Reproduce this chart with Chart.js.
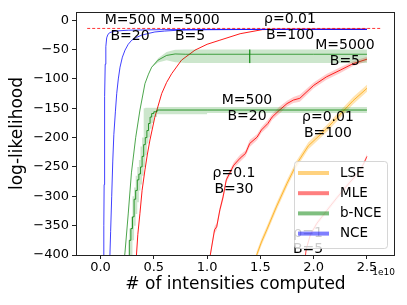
<!DOCTYPE html>
<html>
<head>
<meta charset="utf-8">
<script src="https://cdn.jsdelivr.net/npm/chart.js@4.4.0/dist/chart.umd.min.js"></script>
<style>
  html, body { margin:0; padding:0; background:#fff; }
  canvas { display:block; }
</style>
</head>
<body>
<canvas id="chart" width="407" height="305"></canvas>
<script>
// x values are in units of 1e10 intensities computed
const xTicks = [0, 0.5, 1.0, 1.5, 2.0, 2.5];
const yTicks = [0, -50, -100, -150, -200, -250, -300, -350, -400];

// reference (true) log-likelihood, dashed
const refX = [-0.125, 2.625];
const refY = [-14, -14];

// NCE, M=500 B=20
const nceFastX = [0.028, 0.031, 0.034, 0.037, 0.040, 0.044, 0.050, 0.058, 0.070, 0.089, 0.136, 0.26, 0.6, 1.2, 2.5];
const nceFastY = [-420, -350, -280, -200, -130, -75, -45, -30, -24, -21, -18.5, -17, -16, -15.5, -15.5];

// NCE, M=5000 B=5
const nceSlowX = [0.085, 0.095, 0.105, 0.115, 0.125, 0.14, 0.152, 0.167, 0.183, 0.205, 0.23, 0.26, 0.293, 0.34, 0.386, 0.45, 0.51, 0.6, 0.73, 1.0, 1.5, 2.0, 2.5];
const nceSlowY = [-420, -360, -300, -240, -195, -155, -125, -100, -80, -63, -51, -41, -34, -29, -25.5, -22.5, -20, -18.5, -17, -16.2, -15.7, -15.5, -15.5];

// b-NCE, M=5000 B=5
const bnceBigX = [0.215, 0.23, 0.26, 0.29, 0.33, 0.37, 0.417, 0.45, 0.48, 0.54, 0.62, 0.70, 0.8, 1.0, 1.399, 1.4, 1.4, 1.401, 2.0, 2.5];
const bnceBigY = [-420, -395, -330, -260, -200, -153, -108, -92, -80, -68, -60, -57.5, -58, -58, -58, -50, -73, -58, -58, -58];
const bnceBigUp = [0, 0, 0, 0, 0, 0, 0, 0, 0, 3, 6, 7, 8, 8, 8, 8, 8, 8, 8, 8];
const bnceBigDown = [0, 0, 0, 0, 0, 0, 0, 0, 0, 4, 8, 14, 15, 15, 15, 15, 15, 15, 15, 15];

// b-NCE, M=500 B=20 (staircase)
const bnceSmallX = [0.25, 0.27, 0.285, 0.30, 0.315, 0.33, 0.345, 0.36, 0.375, 0.39, 0.405, 0.42, 0.435, 0.45, 0.465, 0.48, 0.50, 0.53, 1.0, 2.5];
const bnceSmallY = [-420, -375, -355, -335, -305, -290, -272, -262, -250, -232, -212, -200, -188, -176, -165, -159, -156, -153, -153, -153];
const bnceSmallHi = [-400, -355, -335, -300, -285, -265, -250, -238, -215, -200, -150, -149, -149, -149, -149, -149, -149, -148, -148, -148];
const bnceSmallLo = [-420, -420, -400, -375, -350, -330, -310, -290, -280, -265, -250, -230, -210, -200, -185, -175, -165, -160, -158, -158];

// MLE, rho=0.01 B=100
const mleFastX = [0.33, 0.35, 0.37, 0.39, 0.417, 0.44, 0.464, 0.51, 0.574, 0.62, 0.668, 0.76, 0.886, 1.0, 1.12, 1.31, 1.52, 1.7, 2.0, 2.5];
const mleFastY = [-420, -365, -329, -290, -255, -228, -204, -165, -125, -106, -91, -68, -51, -41, -34, -23, -16, -15.4, -15.3, -15.3];

// MLE, rho=0.1 B=30
const mleMidX = [1.02, 1.03, 1.07, 1.09, 1.12, 1.15, 1.18, 1.25, 1.31, 1.36, 1.40, 1.47, 1.51, 1.57, 1.61, 1.68, 1.75, 1.81, 1.87, 2.0, 2.12, 2.25, 2.37, 2.5];
const mleMidY = [-420, -400, -357, -352, -323, -301, -272, -247, -235, -227, -210, -199, -187, -176, -165, -153, -142, -136, -133, -111, -96.5, -85, -74, -66.4];
const mleMidSpread = [5, 5, 6, 6, 5, 6, 5, 5, 6, 5, 6, 5, 5, 6, 5, 6, 5, 5, 6, 5, 5, 5, 4, 4];

// MLE, rho=1 B=5
const mleSlowX = [1.91, 1.93, 1.97, 2.03, 2.09, 2.15, 2.22, 2.28, 2.34, 2.40, 2.44, 2.47, 2.50];
const mleSlowY = [-420, -390, -365, -346, -332, -318, -302, -289, -276, -264, -254, -244, -232];
const mleSlowSpread = [4, 4, 4, 4, 4, 4, 4, 4, 4, 4, 4, 4, 4];

// LSE, rho=0.01 B=100
const lseX = [1.44, 1.465, 1.51, 1.56, 1.65, 1.75, 1.84, 1.95, 2.05, 2.12, 2.25, 2.37, 2.5];
const lseY = [-420, -400, -378, -357, -318, -278, -245, -214, -197, -185, -160, -137, -116];
const lseSpread = [6, 6, 6, 6, 6, 6, 6, 6, 6, 6, 6, 6, 6];

const legendLabels = ['LSE', 'MLE', 'b-NCE', 'NCE'];
const legendColors = ['rgba(255,165,0,0.5)', 'rgba(255,0,0,0.5)', 'rgba(0,128,0,0.5)', 'rgba(0,0,255,0.5)'];

// text labels next to the curves (data coords)
const notes = [
    { x: 0.277, y: -13.6, lines: ['M=500', 'B=20'] },
    { x: 0.84, y: -13.6, lines: ['M=5000', 'B=5'] },
    { x: 1.778, y: -12.8, lines: ['\u03c1=0.01', 'B=100'] },
    { x: 2.293, y: -56.2, lines: ['M=5000', 'B=5'] },
    { x: 1.374, y: -149.8, lines: ['M=500', 'B=20'] },
    { x: 2.134, y: -178.7, lines: ['\u03c1=0.01', 'B=100'] },
    { x: 1.252, y: -274, lines: ['\u03c1=0.1', 'B=30'] },
    { x: 1.947, y: -376, lines: ['\u03c1=1', 'B=5'] }
];

const FONT = '"DejaVu Sans", sans-serif';

function pts(xs, ys) { return xs.map((x, i) => ({ x: x, y: ys[i] })); }
function shift(ys, d, sign) { return ys.map((y, i) => y + sign * d[i]); }

let order = 100;
function line(xs, ys, color, extra) {
    return Object.assign({ data: pts(xs, ys), borderColor: color, borderWidth: 1, pointRadius: 0,
        fill: false, order: order--, tension: 0 }, extra || {});
}
function band(xs, lo, hi, color, extra) {
    const a = Object.assign({ data: pts(xs, lo), borderWidth: 0, borderColor: 'transparent', pointRadius: 0,
        fill: false, order: order--, tension: 0 }, extra || {});
    const b = Object.assign({ data: pts(xs, hi), borderWidth: 0, borderColor: 'transparent', pointRadius: 0,
        fill: '-1', backgroundColor: color, order: order--, tension: 0 }, extra || {});
    return [a, b];
}

const datasets = [
    ...band(lseX, shift(lseY, lseSpread, -1), shift(lseY, lseSpread, 1), 'rgba(255,165,0,0.3)'),
    line(lseX, lseY, 'rgba(255,165,0,0.75)'),
    ...band(mleMidX, shift(mleMidY, mleMidSpread, -1), shift(mleMidY, mleMidSpread, 1), 'rgba(255,0,0,0.2)'),
    line(mleMidX, mleMidY, 'rgba(255,0,0,0.85)'),
    ...band(mleSlowX, shift(mleSlowY, mleSlowSpread, -1), shift(mleSlowY, mleSlowSpread, 1), 'rgba(255,0,0,0.15)'),
    line(mleSlowX, mleSlowY, 'rgba(255,0,0,0.7)'),
    line(mleFastX, mleFastY, 'rgba(255,0,0,0.9)'),
    ...band(bnceBigX, shift(bnceBigY, bnceBigDown, -1), shift(bnceBigY, bnceBigUp, 1), 'rgba(0,128,0,0.2)'),
    line(bnceBigX, bnceBigY, 'rgba(0,128,0,0.7)'),
    ...band(bnceSmallX, bnceSmallLo, bnceSmallHi, 'rgba(0,128,0,0.2)', { stepped: 'before' }),
    line(bnceSmallX, bnceSmallY, 'rgba(0,128,0,0.8)', { stepped: 'before' }),
    line(nceSlowX, nceSlowY, 'rgba(0,0,255,0.75)'),
    line(nceFastX, nceFastY, 'rgba(0,0,255,0.75)'),
    line(refX, refY, 'rgba(255,0,0,0.8)', { borderDash: [3, 2] })
];

const frame = {
    id: 'frame',
    afterDatasetsDraw(chart) {
        const { ctx, scales: { x, y } } = chart;
        ctx.save();
        ctx.font = '14px ' + FONT;
        ctx.fillStyle = '#000';
        ctx.textAlign = 'center';
        ctx.textBaseline = 'middle';
        notes.forEach(n => {
            const px = x.getPixelForValue(n.x), py = y.getPixelForValue(n.y);
            n.lines.forEach((t, i) => ctx.fillText(t, px, py + (i - (n.lines.length - 1) / 2) * 16));
        });
        ctx.restore();
    },
    afterDraw(chart) {
        const { ctx, chartArea: a } = chart;
        ctx.save();
        ctx.strokeStyle = '#222';
        ctx.lineWidth = 1;
        ctx.strokeRect(Math.round(a.left) + 0.5, Math.round(a.top) + 0.5,
            Math.round(a.right - a.left) - 1, Math.round(a.bottom - a.top));
        // offset text of x axis
        ctx.font = '9px ' + FONT;
        ctx.fillStyle = '#000';
        ctx.textAlign = 'right';
        ctx.textBaseline = 'middle';
        ctx.fillText('1e10', a.right, 273);
        // legend
        const w = 93, h = 87;
        const x0 = a.right - 8 - w, y0 = a.bottom - 7 - h;
        ctx.beginPath();
        ctx.roundRect(x0 + 0.5, y0 + 0.5, w, h, 3);
        ctx.fillStyle = 'rgba(255,255,255,0.8)';
        ctx.fill();
        ctx.strokeStyle = 'rgba(204,204,204,0.8)';
        ctx.stroke();
        ctx.font = '13.5px ' + FONT;
        ctx.textAlign = 'left';
        legendLabels.forEach((lab, i) => {
            const ly = y0 + 12 + i * 20.2;
            ctx.strokeStyle = legendColors[i];
            ctx.lineWidth = 4;
            ctx.beginPath();
            ctx.moveTo(x0 + 4, ly);
            ctx.lineTo(x0 + 35, ly);
            ctx.stroke();
            ctx.fillStyle = '#000';
            ctx.fillText(lab, x0 + 46, ly);
        });
        ctx.restore();
    }
};

new Chart(document.getElementById('chart'), {
    type: 'line',
    data: { datasets: datasets },
    plugins: [frame],
    options: {
        responsive: false,
        animation: false,
        devicePixelRatio: 1,
        layout: { padding: { left: 0, top: 12, right: 12, bottom: 0 } },
        plugins: { legend: { display: false }, tooltip: { enabled: false } },
        scales: {
            x: {
                type: 'linear', min: -0.23, max: 2.763,
                afterBuildTicks: s => { s.ticks = xTicks.map(v => ({ value: v })); },
                afterFit: s => { s.height = 50; },
                grid: { drawOnChartArea: false, drawTicks: true, tickLength: 4, color: '#222' },
                border: { display: false },
                ticks: { color: '#000', padding: 1, maxRotation: 0, font: { family: FONT, size: 13 },
                    callback: v => v.toFixed(1) },
                title: { display: true, text: '# of intensities computed', color: '#000',
                    font: { family: FONT, size: 17 }, padding: { top: 0, bottom: 10 } }
            },
            y: {
                type: 'linear', min: -400, max: 14,
                afterBuildTicks: s => { s.ticks = yTicks.map(v => ({ value: v })); },
                afterFit: s => { s.width = 76; },
                grid: { drawOnChartArea: false, drawTicks: true, tickLength: 4, color: '#222' },
                border: { display: false },
                ticks: { color: '#000', padding: 3, font: { family: FONT, size: 13 },
                    callback: v => (v < 0 ? '\u2212' : '') + Math.abs(v) },
                title: { display: true, text: 'log-likelihood', color: '#000',
                    font: { family: FONT, size: 17 }, padding: { top: 7, bottom: 0 } }
            }
        }
    }
});
</script>
</body>
</html>
